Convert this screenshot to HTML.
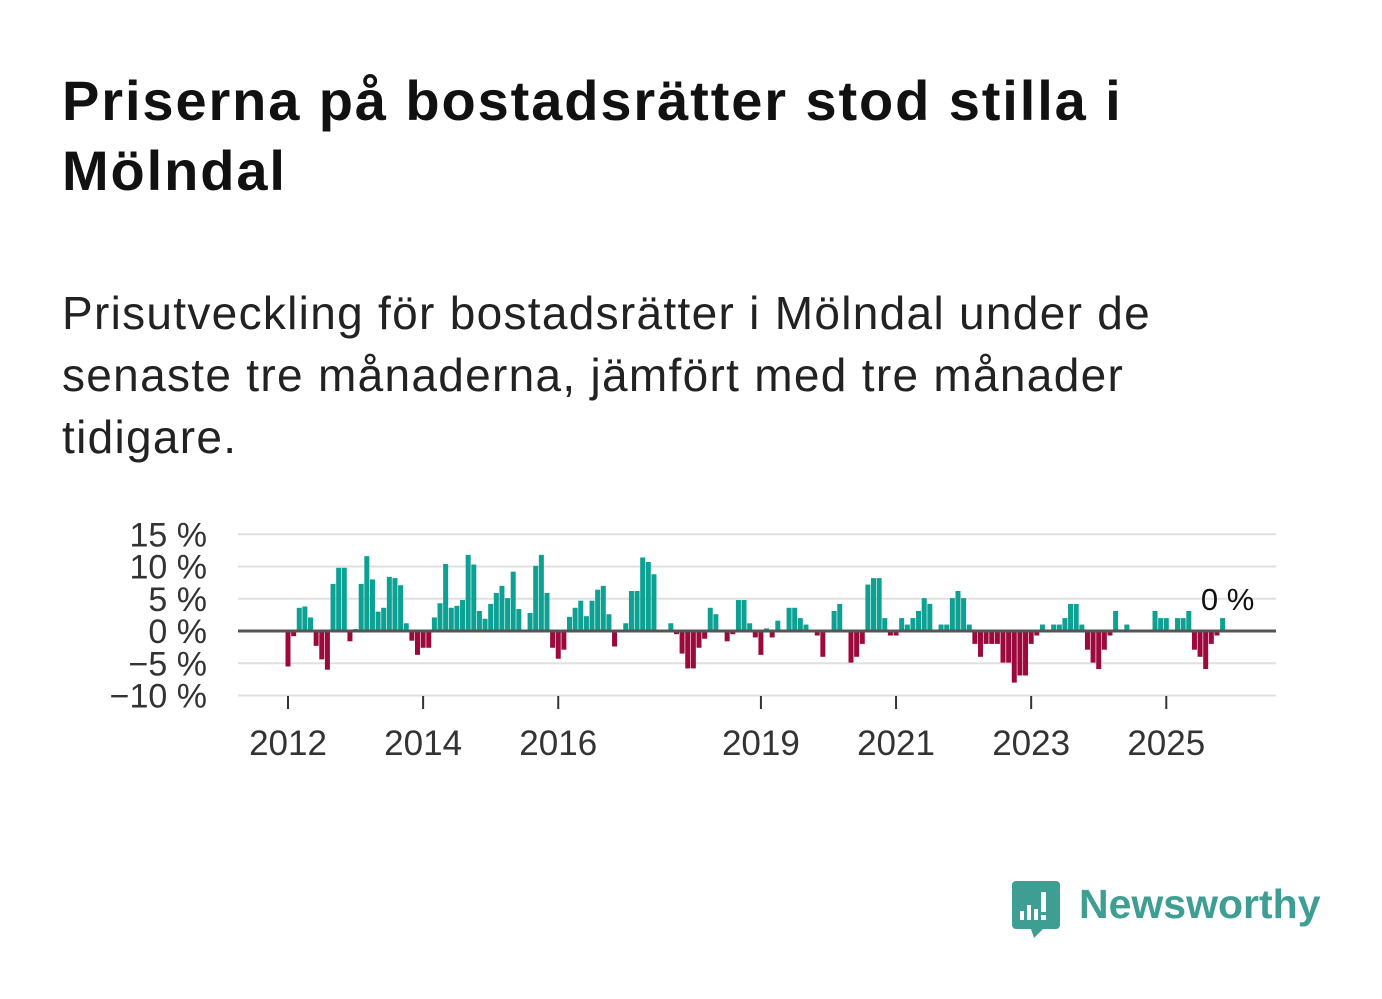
<!DOCTYPE html>
<html><head><meta charset="utf-8"><style>
html,body{margin:0;padding:0;background:#fff;width:1382px;height:999px;overflow:hidden}
body{font-family:"Liberation Sans",sans-serif;color:#111;position:relative}
#title{position:absolute;left:62px;top:66px;font-size:56px;font-weight:bold;line-height:70px;white-space:nowrap;letter-spacing:1.9px;margin:0}
#subtitle{position:absolute;left:62px;top:282px;font-size:46px;line-height:62px;white-space:nowrap;color:#222;margin:0;letter-spacing:1.3px}
svg{position:absolute;left:0;top:0}
</style></head><body>
<h1 id="title">Priserna på bostadsrätter stod stilla i<br>Mölndal</h1>
<p id="subtitle">Prisutveckling för bostadsrätter i Mölndal under de<br>senaste tre månaderna, jämfört med tre månader<br>tidigare.</p>
<svg id="chart" width="1382" height="999"></svg>
<script>
const startYear = 2012;
const values = [
-5.5,-0.8,3.6,3.8,2.1,-2.3,-4.4,-6.0,7.3,9.8,9.8,-1.6,
0.3,7.3,11.6,8.0,3.0,3.6,8.4,8.2,7.1,1.2,-1.5,-3.7,
-2.6,-2.6,2.1,4.3,10.4,3.6,3.9,4.8,11.8,10.3,3.1,1.9,
4.2,5.9,7.0,5.1,9.2,3.4,0,2.8,10.1,11.8,5.9,-2.6,
-4.3,-2.9,2.2,3.6,4.7,2.3,4.7,6.4,7.0,2.6,-2.4,0,
1.2,6.2,6.2,11.4,10.7,8.8,0.2,0,1.2,-0.5,-3.5,-5.8,
-5.8,-2.6,-1.2,3.6,2.6,0,-1.6,-0.5,4.8,4.8,1.2,-1.0,
-3.7,0.4,-1.0,1.6,0.2,3.6,3.6,2.0,1.0,0,-0.7,-4.0,
0,3.1,4.2,0,-4.9,-4.0,-2.0,7.2,8.2,8.2,2.0,-0.7,
-0.7,2.0,1.0,2.0,3.1,5.1,4.2,0,1.0,1.0,5.1,6.2,
5.1,1.0,-2.0,-4.0,-2.0,-2.0,-2.0,-4.9,-4.9,-8.0,-6.9,-6.9,
-2.0,-0.7,1.0,0,1.0,1.0,2.0,4.2,4.2,1.0,-2.9,-4.9,
-5.9,-2.9,-0.7,3.1,0,1.0,0,0,0,0,3.1,2.0,
2.0,0,2.0,2.0,3.1,-2.9,-4.0,-5.9,-2.0,-0.7,2.0
];
const yTicks = [15,10,5,0,-5,-10];
const yTickLabels = ["15 %","10 %","5 %","0 %","\u22125 %","\u221210 %"];
const xTickYears = [2012,2014,2016,2019,2021,2023,2025];
const lastLabel = "0 %";

const NS="http://www.w3.org/2000/svg";
const svg=document.getElementById('chart');
const X0=238, X1=1276, Y0=631;
const pxPerPct=6.45, pxPerMonth=5.63, firstX=288;
function y(v){return Y0 - v*pxPerPct;}
function x(i){return firstX + i*pxPerMonth;}
function yearX(yr){return x((yr-startYear)*12);}
function mk(tag,attrs){const e=document.createElementNS(NS,tag);for(const k in attrs)e.setAttribute(k,attrs[k]);svg.appendChild(e);return e;}

yTicks.forEach((t,k)=>{
  if(t!==0){
    const g=mk('line',{x1:X0,x2:X1,y1:y(t),y2:y(t),stroke:'#e0e0e0','stroke-width':2});
    
    
  }
  const tx=mk('text',{x:207,y:y(t)+12,'text-anchor':'end','font-size':34,'font-family':'Liberation Sans, sans-serif',fill:'#333'});
  tx.textContent=yTickLabels[k];
  
  
});

values.forEach((v,i)=>{
  if(v===0)return;
  const top=v>0?y(v):Y0, h=Math.abs(y(v)-Y0);
  const r=mk('rect',{x:x(i)-2.5,y:top,width:5,height:h,fill:v>0?'#0ca192':'#9c0a3d'});
  
  
});

const zl=mk('line',{x1:X0,x2:X1,y1:Y0,y2:Y0,stroke:'#555','stroke-width':3});



xTickYears.forEach(yr=>{
  const t=mk('line',{x1:yearX(yr),x2:yearX(yr),y1:696,y2:709,stroke:'#333','stroke-width':2});
  
  
  const l=mk('text',{x:yearX(yr),y:755,'text-anchor':'middle','font-size':35,'font-family':'Liberation Sans, sans-serif',fill:'#333'});
  l.textContent=String(yr);
  
  
});

const lv=mk('text',{x:x(values.length-1)+5,y:610,'text-anchor':'middle','font-size':31,'font-family':'Liberation Sans, sans-serif',fill:'#111'});
lv.textContent=lastLabel;


</script>
<svg width="1382" height="999" style="pointer-events:none">
  <path d="M1016 881 h40 a4 4 0 0 1 4 4 v40 a4 4 0 0 1 -4 4 h-13 l-9 9 l-3 -9 h-15 a4 4 0 0 1 -4 -4 v-40 a4 4 0 0 1 4 -4z" fill="#3f9e94"/>
  <rect x="1020" y="911" width="4" height="9" fill="#fff"/>
  <rect x="1027" y="905" width="4" height="15" fill="#fff"/>
  <rect x="1034" y="909" width="4" height="11" fill="#fff"/>
  <rect x="1041" y="892" width="5" height="20" fill="#fff"/>
  <rect x="1041" y="915" width="5" height="5" fill="#fff"/>
  <text x="1079" y="918" font-size="41" font-weight="bold" font-family="Liberation Sans, sans-serif" fill="#3f9e94">Newsworthy</text>
</svg>
</body></html>
